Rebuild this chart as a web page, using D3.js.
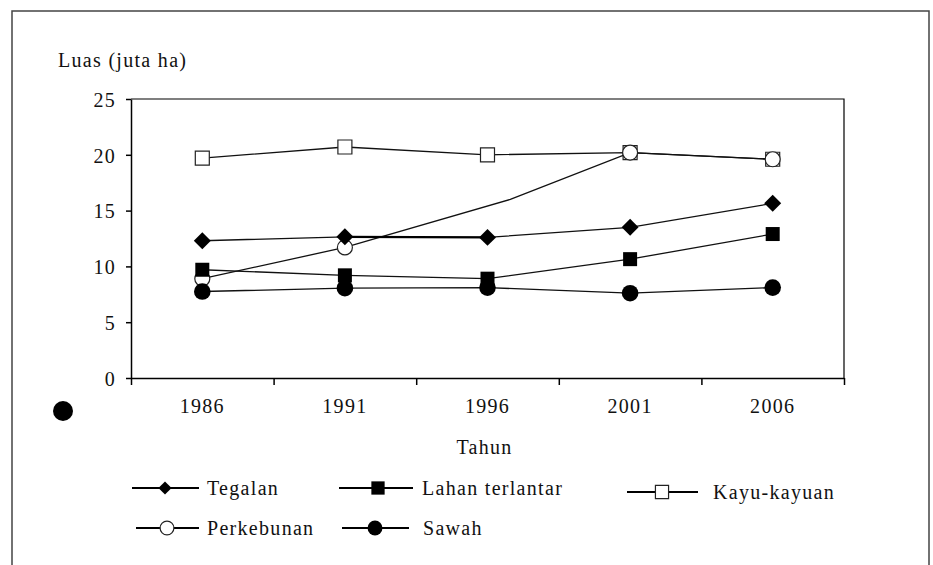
<!DOCTYPE html>
<html>
<head>
<meta charset="utf-8">
<script src="https://cdn.jsdelivr.net/npm/d3@7"></script>
</head>
<body style="margin:0; background:#fff">
<svg width="933" height="565"></svg>
<script>
// data
const years = [1986, 1991, 1996, 2001, 2006];
const tegalan = [12.3, 12.65, 12.6, 13.5, 15.65];
const lahanTerlantar = [9.7, 9.2, 8.9, 10.65, 12.9];
const kayuKayuan = [19.7, 20.7, 20.0, 20.2, 19.6];
// perkebunan has no 1996 marker, its line bends a bit after 1996
const perkebunanYears = [1986, 1991, 1996.8, 2001, 2006];
const perkebunan = [8.9, 11.7, 16.0, 20.2, 19.6];
const perkebunanMarked = [true, true, false, true, true];
const sawah = [7.75, 8.05, 8.1, 7.6, 8.1];
const yTicks = [0, 5, 10, 15, 20, 25];

const svg = d3.select('svg');
const width = +svg.attr('width');
const height = +svg.attr('height');

const font = (sel) => sel
    .style('font-family', '"Liberation Serif", "Times New Roman", serif')
    .style('font-size', '20px')
    .style('letter-spacing', '1.3px')
    .attr('fill', '#111');

const margin = {top: 99, right: 89, bottom: 187, left: 131};
const innerWidth = width - margin.left - margin.right;
const innerHeight = height - margin.top - margin.bottom;

// outer frame (no bottom edge)
svg.append('path')
    .attr('d', `M12,${height} V11 H929 V${height}`)
    .attr('fill', 'none')
    .attr('stroke', '#444')
    .attr('stroke-width', 1.5);

const xScale = d3.scaleLinear()
    .domain([years[0] - 2.5, years[years.length - 1] + 2.5])
    .range([0, innerWidth]);

const yScale = d3.scaleLinear()
    .domain([0, 25])
    .range([innerHeight, 0]);

const g = svg.append('g')
    .attr('transform', `translate(${margin.left}, ${margin.top})`);

// top and right border of the plot
g.append('path')
    .attr('d', `M0,0 H${innerWidth} V${innerHeight}`)
    .attr('fill', 'none')
    .attr('stroke', '#000')
    .attr('stroke-width', 1.2);

const yAxis = d3.axisLeft(yScale)
    .tickValues(yTicks)
    .tickSize(5)
    .tickSizeOuter(0)
    .tickPadding(10);
g.append('g').call(yAxis)
    .call(a => a.select('.domain').attr('stroke-width', 1.5))
    .call(a => a.selectAll('.tick line').attr('stroke-width', 1.5))
    .call(a => a.selectAll('text').call(font).attr('dy', '0.36em'));

const xBounds = d3.range(years[0] - 2.5, years[years.length - 1] + 3, 5);
const xAxis = d3.axisBottom(xScale)
    .tickValues(xBounds)
    .tickSize(7)
    .tickSizeOuter(0)
    .tickFormat('');
g.append('g').call(xAxis)
    .attr('transform', `translate(0, ${innerHeight})`)
    .call(a => a.select('.domain').attr('stroke-width', 1.5))
    .call(a => a.selectAll('.tick line').attr('stroke-width', 1.5));

g.selectAll('.year-label').data(years)
    .enter().append('text')
        .attr('class', 'year-label')
        .attr('x', d => xScale(d))
        .attr('y', innerHeight + 35)
        .attr('text-anchor', 'middle')
        .call(font)
        .text(d => d);

svg.append('text')
    .attr('x', 58)
    .attr('y', 67)
    .call(font)
    .text('Luas (juta ha)');

svg.append('text')
    .attr('x', margin.left + innerWidth / 2 - 3)
    .attr('y', 454)
    .attr('text-anchor', 'middle')
    .call(font)
    .text('Tahun');

const marker = {
    diamond: {type: d3.symbolSquare, size: 144, rotate: 45, fill: '#000'},
    square: {type: d3.symbolSquare, size: 196, rotate: 0, fill: '#000'},
    openSquare: {type: d3.symbolSquare, size: 196, rotate: 0, fill: '#fff'},
    openCircle: {type: d3.symbolCircle, size: Math.PI * 7.5 * 7.5, rotate: 0, fill: '#fff'},
    circle: {type: d3.symbolCircle, size: Math.PI * 8.3 * 8.3, rotate: 0, fill: '#000'}
};

const series = [
    {name: 'Kayu-kayuan', xs: years, ys: kayuKayuan, marked: years.map(() => true), m: 'openSquare'},
    {name: 'Perkebunan', xs: perkebunanYears, ys: perkebunan, marked: perkebunanMarked, m: 'openCircle'},
    {name: 'Tegalan', xs: years, ys: tegalan, marked: years.map(() => true), m: 'diamond'},
    {name: 'Lahan terlantar', xs: years, ys: lahanTerlantar, marked: years.map(() => true), m: 'square'},
    {name: 'Sawah', xs: years, ys: sawah, marked: years.map(() => true), m: 'circle'}
];

const line = d3.line()
    .x(d => xScale(d[0]))
    .y(d => yScale(d[1]));

const drawSymbol = (sel, m, scale) => {
    const s = marker[m];
    sel.append('path')
        .attr('d', d3.symbol().type(s.type).size(s.size * (scale || 1)))
        .attr('fill', s.fill)
        .attr('stroke', s.fill === '#fff' ? '#222' : 'none')
        .attr('stroke-width', 1.2);
};

series.forEach(s => {
    const pts = s.xs.map((x, i) => [x, s.ys[i], s.marked[i]]);
    g.append('path')
        .datum(pts)
        .attr('d', line)
        .attr('fill', 'none')
        .attr('stroke', '#111')
        .attr('stroke-width', 1.3);
    g.selectAll(null).data(pts.filter(p => p[2]))
        .enter().append('g')
            .attr('transform', d => `translate(${xScale(d[0])}, ${yScale(d[1])}) rotate(${marker[s.m].rotate})`)
            .each(function() { drawSymbol(d3.select(this), s.m); });
});

// the 1991-1996 tegalan segment is drawn heavier in the source
g.append('path')
    .datum([[years[1], tegalan[1]], [years[2], tegalan[2]]])
    .attr('d', line)
    .attr('stroke', '#000')
    .attr('stroke-width', 2.4);

// legend
const legendItems = [
    {name: 'Tegalan', m: 'diamond', x1: 132, x2: 199, mx: 165, tx: 207, y: 488, k: 0.6},
    {name: 'Lahan terlantar', m: 'square', x1: 339, x2: 413, mx: 378, tx: 422, y: 488, k: 0.9},
    {name: 'Kayu-kayuan', m: 'openSquare', x1: 627, x2: 698, mx: 662, tx: 713, y: 492, k: 0.88},
    {name: 'Perkebunan', m: 'openCircle', x1: 136, x2: 199, mx: 167, tx: 207, y: 528, k: 0.85},
    {name: 'Sawah', m: 'circle', x1: 342, x2: 409, mx: 375, tx: 423, y: 528, k: 0.8}
];

const legend = svg.append('g');
legendItems.forEach(d => {
    legend.append('line')
        .attr('x1', d.x1).attr('x2', d.x2)
        .attr('y1', d.y).attr('y2', d.y)
        .attr('stroke', '#000')
        .attr('stroke-width', 2);
    const mg = legend.append('g')
        .attr('transform', `translate(${d.mx}, ${d.y}) rotate(${marker[d.m].rotate})`);
    drawSymbol(mg, d.m, d.k);
    legend.append('text')
        .attr('x', d.tx)
        .attr('y', d.y)
        .attr('dy', '0.33em')
        .call(font)
        .text(d.name);
});

// stray sawah marker left of the axis in the source picture
svg.append('g')
    .attr('transform', 'translate(63, 411)')
    .call(sel => drawSymbol(sel, 'circle', 1.45));
</script>
</body>
</html>
